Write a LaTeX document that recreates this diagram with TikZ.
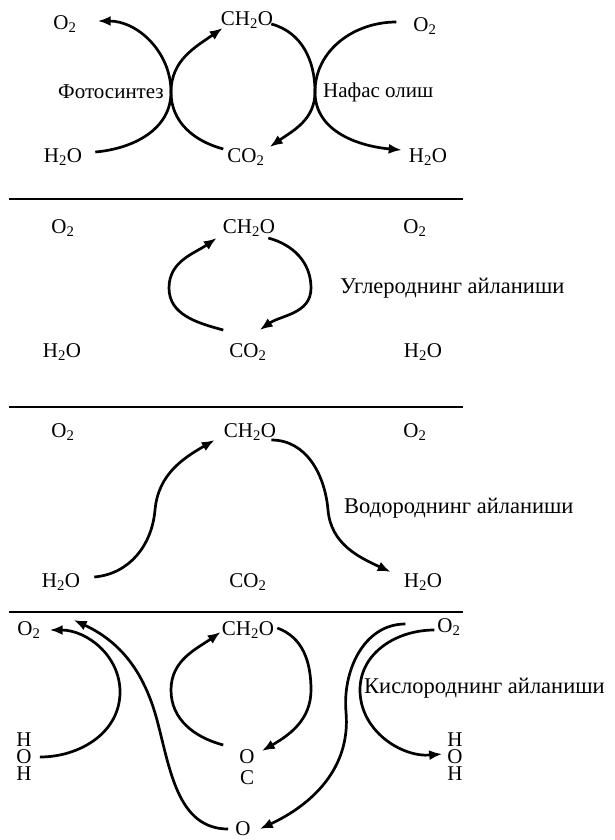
\documentclass[tikz,border=0pt]{standalone}
\usepackage{fontspec}
\setmainfont{Liberation Serif}
\usetikzlibrary{positioning, arrows.meta}
\def\otwo{O\textsubscript{2}}
\def\htwoo{H\textsubscript{2}O}
\def\cotwo{CO\textsubscript{2}}
\def\chtwoo{CH\textsubscript{2}O}

\begin{document}
\begin{tikzpicture}[
  x=1pt, y=-1pt,
  node distance=4pt,
  every node/.style={inner sep=1pt, font=\fontsize{21}{21}\selectfont},
  cyclename/.style={anchor=west, font=\fontsize{22.5}{22.5}\selectfont},
  stack/.style={align=center, font=\fontsize{21}{17}\selectfont},
  arrow/.style={line width=2.7pt, -{Latex[length=13pt,width=10pt]}},
  rule/.style={line width=2.5pt},
]
  \useasboundingbox (0,0) rectangle (615,840);

  % Separating rules
  \foreach \yy in {199,407,612} {
    \draw [rule] (9,\yy) -- (463,\yy);
  }

  % Panel 1: photosynthesis and respiration
  \node (o2A) at (65,24) {\otwo};
  \node (sugA) at (247,20) {\chtwoo};
  \node (o2B) at (425,26) {\otwo};
  \node (photo) [anchor=east] at (165,92) {Фотосинтез};
  \node (resp) [anchor=west] at (322,92) {Нафас олиш};
  \node (h2oA) at (63,157) {\htwoo};
  \node (carbA) at (246,157) {\cotwo};
  \node (h2oB) at (428,157) {\htwoo};
  \coordinate (crossA) at (171,92);
  \coordinate (crossB) at (315,92);

  \draw [arrow] ([shift={(12,-5)}]h2oA.east) to[out=5,in=-90] (crossA) to[out=90,in=0] ([shift={(20,-3)}]o2A.east);
  \draw [arrow] ([shift={(-3,-8)}]carbA.west) to[out=165,in=-90] (crossA) to[out=90,in=-145] ([shift={(3,8)}]sugA.west);
  \draw [arrow] ([shift={(-3,4)}]sugA.east) to[out=-15,in=90] (crossB) to[out=-90,in=35] ([shift={(4,-10)}]carbA.east);
  \draw [arrow] ([shift={(-16,-4)}]o2B.west) to[out=180,in=90] (crossB) to[out=-90,in=175] ([shift={(-6,-7)}]h2oB.west);

  % Panel 2: carbon cycle
  \node (o2C) at (63,228) {\otwo};
  \node (sugB) at (249,228) {\chtwoo};
  \node (o2D) at (415,228) {\otwo};
  \node (carbcycle) [cyclename] at (339,288) {Углероднинг айланиши};
  \node (h2oC) at (62,352) {\htwoo};
  \node (carbB) at (248,352) {\cotwo};
  \node (h2oD) at (423,352) {\htwoo};
  \coordinate (ringL) at (169,288);
  \coordinate (ringR) at (311,288);

  \draw [arrow] ([shift={(-5,-22)}]carbB.west) to[out=165,in=-90] (ringL) to[out=90,in=-145] ([shift={(-5,10)}]sugB.west);
  \draw [arrow] ([shift={(-8,10)}]sugB.east) to[out=-15,in=90] (ringR) to[out=-90,in=35] ([shift={(-8,-22)}]carbB.east);

  % Panel 3: hydrogen cycle
  \node (o2E) at (63,432) {\otwo};
  \node (sugC) at (250,432) {\chtwoo};
  \node (o2F) at (415,432) {\otwo};
  \node (hydcycle) [cyclename] at (343,508) {Водороднинг айланиши};
  \node (h2oE) at (61,582) {\htwoo};
  \node (carbC) at (248,582) {\cotwo};
  \node (h2oF) at (423,582) {\htwoo};
  \coordinate (bendL) at (155,510);
  \coordinate (bendR) at (328,510);

  \draw [arrow] ([shift={(13,-5)}]h2oE.east) to[out=5,in=-95] (bendL) to[out=85,in=-150] ([shift={(-8,8)}]sugC.west);
  \draw [arrow] ([shift={(-6,8)}]sugC.east) to[out=0,in=95] (bendR) to[out=-85,in=155] ([shift={(-12,-10)}]h2oF.west);

  % Panel 4: oxygen cycle
  \node (o2G) at (29,630) {\otwo};
  \node (sugD) at (248,630) {\chtwoo};
  \node (o2H) at (449,627) {\otwo};
  \node (oxycycle) [cyclename] at (363,688) {Кислороднинг айланиши};
  \node (waterL) [stack] at (24,757) {H\\O\\H};
  \node (midO) at (247,757) {O};
  \node (midC) [below=of midO] {C};
  \node (botO) at (243,829) {O};
  \node (waterR) [stack] at (455,757) {H\\O\\H};
  \coordinate (loopL) at (120,692);
  \coordinate (waveL) at (157,720);
  \coordinate (ringL2) at (171,690);
  \coordinate (ringR2) at (311,690);
  \coordinate (waveR) at (346,712);
  \coordinate (loopR) at (360,690);

  \draw [arrow] ([xshift=7]waterL.east) to[out=0,in=-90] (loopL) to[out=90,in=0] ([xshift=8]o2G.east);
  \draw [arrow] ([xshift=-6]botO.west) to[out=180,in=-75] (waveL) to[out=105,in=-25] ([shift={(32,-10)}]o2G.east);
  \draw [arrow] ([shift={(-15,-12)}]midO.west) to[out=165,in=-90] (ringL2) to[out=90,in=-145] ([shift={(0,2)}]sugD.west);
  \draw [arrow] ([shift={(2,-2)}]sugD.east) to[out=-20,in=90] (ringR2) to[out=-90,in=30] ([shift={(6,-6)}]midO.east);
  \draw [arrow] ([shift={(-31,-3)}]o2H.west) to[out=180,in=95] (waveR) to[out=-85,in=25] ([xshift=8]botO.east);
  \draw [arrow] ([shift={(-2,3)}]o2H.west) to[out=180,in=90] (loopR) to[out=-90,in=185] ([shift={(-4,-3)}]waterR.west);

\end{tikzpicture}
\end{document}
